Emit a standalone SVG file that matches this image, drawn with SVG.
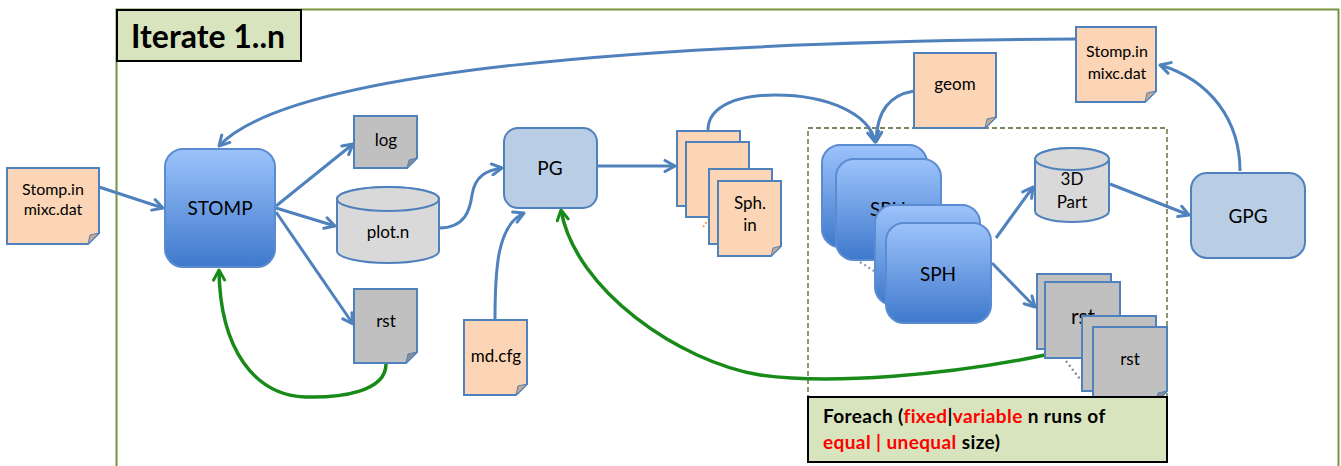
<svg xmlns="http://www.w3.org/2000/svg" width="1341" height="466" viewBox="0 0 1341 466">
<style>
text{font-family:Lato,"Liberation Sans",sans-serif;fill:#000;text-anchor:middle}
.t{font-size:17px}
.tb{font-size:19px}
.doc{stroke:#4f81bd;stroke-width:2}
.or{fill:#fbd5b5}
.gr{fill:#c0c0c0}
.fo{fill:#c9a98c;stroke:#4f81bd;stroke-width:1}
.fg{fill:#8c8c8c;stroke:#4f81bd;stroke-width:1}
.cyl{fill:#d9d9d9;stroke:#4f81bd;stroke-width:2}
.bb{fill:url(#blueGrad);stroke:#5b8bd0;stroke-width:2}
.lb{fill:#b9cde5;stroke:#4f81bd;stroke-width:2}
.c{fill:none;stroke:#4f81bd;stroke-width:3;marker-end:url(#ab)}
.g{fill:none;stroke:#188a18;stroke-width:3.5;marker-end:url(#ag)}
.red{fill:#ff0000}
.fe{font-size:19px;font-weight:bold;text-anchor:start;letter-spacing:0.4px}
</style>
<defs>
<linearGradient id="blueGrad" x1="0" y1="0" x2="0" y2="1">
<stop offset="0" stop-color="#9cc3fb"/>
<stop offset="1" stop-color="#3f79cc"/>
</linearGradient>
<marker id="ab" viewBox="0 0 14 14" refX="12" refY="7" markerWidth="14" markerHeight="14" markerUnits="userSpaceOnUse" orient="auto">
<path d="M2,1.5 L12,7 L2,12.5" fill="none" stroke="#4f81bd" stroke-width="3" stroke-linecap="round" stroke-linejoin="round"/>
</marker>
<marker id="ag" viewBox="0 0 14 14" refX="12" refY="7" markerWidth="14" markerHeight="14" markerUnits="userSpaceOnUse" orient="auto">
<path d="M2,1.5 L12,7 L2,12.5" fill="none" stroke="#188a18" stroke-width="3" stroke-linecap="round" stroke-linejoin="round"/>
</marker>
</defs>
<rect width="1341" height="466" fill="#fff"/>

<g id="frame">
<rect x="116.5" y="9.5" width="1222" height="480" fill="none" stroke="#77933c" stroke-width="2"/>
<rect x="808" y="128" width="359" height="269" fill="none" stroke="#4f6228" stroke-width="1.3" stroke-dasharray="5,3"/>
</g>

<g id="title">
<rect x="117" y="10" width="184" height="51" fill="#d7e4bd" stroke="#000" stroke-width="2"/>
<text x="131" y="48" style="font-size:32px;font-weight:bold;text-anchor:start">Iterate 1..n</text>
</g>

<g id="connectors">
<path class="c" d="M99,187 L163,208"/>
<path class="c" d="M276,206 L353,144"/>
<path class="c" d="M276,208 L335,226"/>
<path class="c" d="M276,212 L353,324"/>
<path class="c" d="M1076,39 C650,42 290,70 219,146"/>
<path class="c" d="M439,228 C465,228 470,210 472,195 C475,175 488,170 502,168"/>
<path class="c" d="M495,320 C495,270 497,225 524,213"/>
<path class="c" d="M597,166 L675,166"/>
<path class="c" d="M708,130 C708,105 740,95 775,95 C830,95 870,115 875,142"/>
<path class="c" d="M914,91 C890,95 877,110 876,142"/>
<path class="c" d="M996,238 L1033,187"/>
<path class="c" d="M992,263 L1035,307"/>
<path class="c" d="M1110,184 L1189,215"/>
<path class="c" d="M1240,171 C1240,120 1210,80 1160,65"/>
<path class="g" d="M386,364 C386,392 340,398 305,397 C255,395 220,350 219,270"/>
<path class="g" d="M1045,355 C950,375 830,385 760,375 C680,362 575,290 561,210"/>
</g>

<g id="stompL">
<path class="doc or" d="M7,168 H99 V233 L88,244 H7 Z"/>
<path class="fo" d="M99,233 L88,244 L90,235 Z"/>
<text class="t" x="53" y="195" style="font-size:16px">Stomp.in</text>
<text class="t" x="53" y="215" style="font-size:16px">mixc.dat</text>
</g>

<g id="stomp">
<rect class="bb" x="165" y="149" width="110" height="118" rx="18"/>
<text class="tb" x="220" y="215">STOMP</text>
</g>

<g id="log">
<path class="doc gr" d="M354,116 H417 V158 L407,168 H354 Z"/>
<path class="fg" d="M417,158 L407,168 L409,160 Z"/>
<text class="t" x="386" y="146">log</text>
</g>

<g id="plotn">
<path class="cyl" d="M337,199 A51,12 0 0 1 439,199 V251 A51,12 0 0 1 337,251 Z"/>
<ellipse cx="388" cy="199" rx="51" ry="12" fill="#d9d9d9" stroke="#4f81bd" stroke-width="2"/>
<text class="t" x="388" y="238">plot.n</text>
</g>

<g id="rstL">
<path class="doc gr" d="M354,289 H417 V352 L406,363 H354 Z"/>
<path class="fg" d="M417,352 L406,363 L408,354 Z"/>
<text class="t" x="386" y="327">rst</text>
</g>

<g id="pg">
<rect class="lb" x="504" y="128" width="93" height="80" rx="14"/>
<text class="tb" x="550" y="175">PG</text>
</g>

<g id="mdcfg">
<path class="doc or" d="M464,320 H527 V384 L516,395 H464 Z"/>
<path class="fo" d="M527,384 L516,395 L518,386 Z"/>
<text class="t" x="496" y="362">md.cfg</text>
</g>

<g id="sphin">
<path class="doc or" d="M677,131 H740 V206 H677 Z"/>
<path class="doc or" d="M686,142 H749 V217 H686 Z"/>
<path d="M703,227 L709,219" stroke="#f0a060" stroke-width="2" stroke-dasharray="2,2"/>
<path class="doc or" d="M709,169 H772 V244 H709 Z"/>
<path class="doc or" d="M718,181 H781 V246 L771,256 H718 Z"/>
<path class="fo" d="M781,246 L771,256 L773,248 Z"/>
<text class="t" x="750" y="209">Sph.</text>
<text class="t" x="750" y="231">in</text>
</g>

<g id="geom">
<path class="doc or" d="M914,53 H996 V117 L985,128 H914 Z"/>
<path class="fo" d="M996,117 L985,128 L987,119 Z"/>
<text class="t" x="955" y="90">geom</text>
</g>

<g id="stompR">
<path class="doc or" d="M1076,27 H1156 V91 L1145,102 H1076 Z"/>
<path class="fo" d="M1156,91 L1145,102 L1147,93 Z"/>
<text class="t" x="1117" y="57" style="font-size:16px">Stomp.in</text>
<text class="t" x="1117" y="79" style="font-size:16px">mixc.dat</text>
</g>

<g id="sph">
<rect class="bb" x="822" y="145" width="105" height="102" rx="18"/>
<rect class="bb" x="836" y="159" width="105" height="101" rx="18"/>
<text class="tb" x="888" y="216">SPH</text>
<path d="M860,262 L874,271" stroke="#8c9db5" stroke-width="2.5" stroke-dasharray="2,3"/>
<rect class="bb" x="875" y="205" width="105" height="100" rx="18"/>
<rect class="bb" x="886" y="223" width="105" height="100" rx="18"/>
<text class="tb" x="938" y="281">SPH</text>
</g>

<g id="part3d">
<path class="cyl" d="M1035,159 A37,11 0 0 1 1109,159 V211 A37,11 0 0 1 1035,211 Z"/>
<ellipse cx="1072" cy="159" rx="37" ry="11" fill="#d9d9d9" stroke="#4f81bd" stroke-width="2"/>
<text class="t" x="1072" y="185">3D</text>
<text class="t" x="1072" y="208">Part</text>
</g>

<g id="rstR">
<path class="doc gr" d="M1037,274 H1111 V349 H1037 Z"/>
<path class="doc gr" d="M1045,282 H1120 V358 H1045 Z"/>
<text x="1083" y="324" style="font-size:21px">rst</text>
<path d="M1066,361 L1080,379" stroke="#8c8c8c" stroke-width="2.5" stroke-dasharray="2,3"/>
<path class="doc gr" d="M1082,316 H1156 V391 H1082 Z"/>
<path class="doc gr" d="M1093,327 H1167 V391 L1156,402 H1093 Z"/>
<path class="fg" d="M1167,391 L1156,402 L1158,393 Z"/>
<text class="t" x="1130" y="365">rst</text>
</g>

<g id="gpg">
<rect class="lb" x="1191" y="173" width="114" height="85" rx="16"/>
<text class="tb" x="1248" y="223">GPG</text>
</g>

<g id="foreach">
<rect x="808" y="397" width="359" height="65" fill="#d7e4bd" stroke="#000" stroke-width="2"/>
<text class="fe" x="823" y="423">Foreach (<tspan class="red">fixed</tspan>|<tspan class="red">variable</tspan> n runs of</text>
<text class="fe" x="823" y="449"><tspan class="red">equal | unequal</tspan> size)</text>
</g>
</svg>
